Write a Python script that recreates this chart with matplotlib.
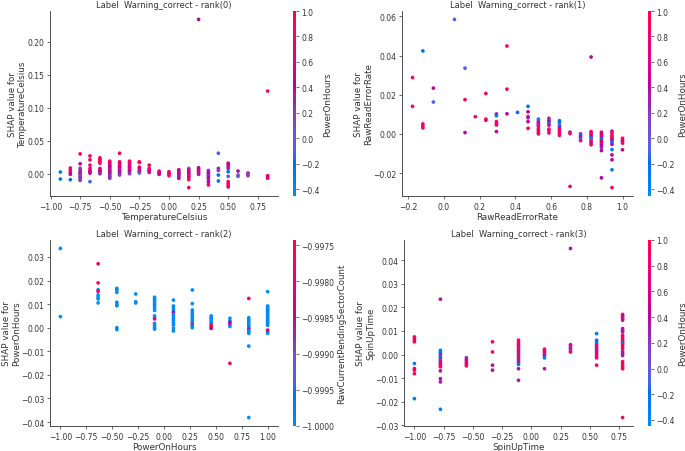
import numpy as np
import matplotlib
matplotlib.use("Agg")
import matplotlib.pyplot as plt
from matplotlib.colors import ListedColormap
from matplotlib.ticker import FuncFormatter

# ---------------- data ----------------
titles = ["Label  Warning_correct - rank(0)", "Label  Warning_correct - rank(1)",
          "Label  Warning_correct - rank(2)", "Label  Warning_correct - rank(3)"]
features = ["TemperatureCelsius", "RawReadErrorRate", "PowerOnHours", "SpinUpTime"]
color_features = ["PowerOnHours", "PowerOnHours", "RawCurrentPendingSectorCount", "PowerOnHours"]

# Panel 1: TemperatureCelsius
p1_cols = [-0.917, -0.833, -0.75, -0.667, -0.583, -0.5, -0.417, -0.333, -0.25, -0.167,
           -0.083, 0.0, 0.083, 0.167, 0.25, 0.333, 0.417, 0.5, 0.583, 0.667, 0.833]
p1_shap = [
    [0.0025, -0.008],
    [0.0085, 0.005, 0.0015, -0.001, -0.009],
    [0.030, 0.015, 0.008, 0.005, 0.002, 0.0, -0.002, -0.004, -0.006, -0.008, -0.010],
    [0.027, 0.021, 0.013, 0.008, 0.005, 0.003, 0.001, 0.0015, -0.012],
    [0.024, 0.022, 0.020, 0.018, 0.016, 0.008, 0.006, 0.004, 0.002, 0.0],
    [0.019, 0.017, 0.015, 0.013, 0.011, 0.009, 0.007, 0.005, 0.003, 0.001, -0.001, -0.003, -0.005, -0.007],
    [0.031, 0.018, 0.016, 0.014, 0.012, 0.010, 0.008, 0.006, 0.004, 0.002, 0.0, -0.002],
    [0.019, 0.017, 0.015, 0.012, 0.010, 0.008, 0.006, 0.004, 0.002, 0.0],
    [0.018, 0.017, 0.010, 0.008, 0.005, 0.003, 0.001],
    [0.013, 0.008, 0.006, 0.004, 0.002],
    [0.004, 0.002, 0.0, -0.001],
    [0.003, 0.001, -0.001, -0.003],
    [0.006, 0.004, 0.002, 0.0, -0.002, -0.004, -0.007],
    [0.008, 0.006, 0.004, 0.002, 0.0, -0.002, -0.004, -0.006, -0.009, -0.021],
    [0.2335, 0.009, 0.007, 0.005, 0.003, 0.001, -0.001],
    [0.005, 0.003, 0.001, -0.002, -0.004, -0.006, -0.009, -0.013, -0.017],
    [0.031, 0.008, 0.005, -0.002, -0.011],
    [0.016, 0.014, 0.011, 0.008, 0.003, -0.004, -0.012, -0.015, -0.018, -0.020],
    [0.004, -0.002, -0.004],
    [0.001, -0.001, -0.003],
    [0.125, -0.003, -0.005, -0.007],
]
p1_color = [
    [-0.3, -0.3],
    [0.9, 0.8, 0.6, 0.4, -0.2],
    [0.9, 0.4, 0.3, 0.2, 0.4, 0.3, 0.2, 0.1, 0.3, 0.0, 0.2],
    [0.9, 0.9, 0.9, 0.9, 0.6, 0.4, 0.3, 0.7, -0.1],
    [0.95, 0.9, 0.9, 0.85, 0.9, 0.9, 0.6, 0.5, 0.4, 0.3],
    [0.9, 0.9, 0.6, 0.7, 0.5, 0.4, 0.3, 0.8, 0.5, 0.4, 0.3, 0.2, 0.3, 0.2],
    [0.9, 0.9, 0.9, 0.6, 0.8, 0.5, 0.4, 0.7, 0.3, 0.4, 0.3, 0.2],
    [0.9, 0.9, 0.8, 0.7, 0.6, 0.5, 0.9, 0.4, 0.3, 0.2],
    [0.95, 0.9, 0.8, 0.5, 0.9, 0.4, 0.0],
    [0.9, 0.9, 0.7, 0.5, 0.6],
    [0.9, 0.7, 0.4, 0.5],
    [0.9, 0.8, 0.7, 0.9],
    [0.5, 0.4, 0.3, 0.6, 0.4, 0.3, 0.4],
    [0.0, 0.3, 0.9, 0.5, 0.4, 0.8, 0.9, 0.6, 0.9, 0.95],
    [0.4, 0.5, 0.4, 0.9, 0.4, 0.8, 0.3],
    [0.0, 0.3, 0.4, 0.3, 0.2, 0.4, 0.3, 0.4, 0.8],
    [-0.1, 0.3, 0.2, -0.2, -0.2],
    [0.9, 0.4, 0.6, 0.3, -0.2, -0.1, 0.9, 0.9, 0.95, 0.9],
    [0.4, 0.1, 0.0],
    [0.3, 0.2, 0.2],
    [0.95, 0.9, 0.4, 0.9],
]

# Panel 2: RawReadErrorRate
p2_cols = [-0.176, -0.118, -0.059, 0.059, 0.118, 0.176, 0.235, 0.294, 0.353, 0.412,
           0.471, 0.529, 0.588, 0.647, 0.706, 0.765, 0.824, 0.882, 0.941, 1.0]
p2_shap = [
    [0.0288, 0.0141],
    [0.0424, 0.0051, 0.0041, 0.0031],
    [0.0234, 0.0163],
    [0.0585],
    [0.0336, 0.0175, 0.0007],
    [0.0088],
    [0.0207, 0.0076, 0.0070],
    [0.0102, 0.0093, 0.0063, 0.0053, 0.0046, 0.0012],
    [0.0449, 0.0229, 0.0103],
    [0.0110],
    [0.0141, 0.0113, 0.0088, 0.0083, 0.0063, 0.0029],
    [0.0076, 0.0068, 0.0060, 0.0051, 0.0046, 0.0038, 0.0025, 0.0017, 0.0008, 0.0],
    [0.0080, 0.0070, 0.0064, 0.0056, 0.0045, 0.0025, 0.0017, 0.0005],
    [0.0068, 0.0060, 0.0045, 0.0039, 0.0030, 0.0020, 0.0012, 0.0004, -0.0007],
    [0.0009, 0.0002, -0.0268],
    [0.0, -0.0008, -0.0017, -0.0025, -0.0034],
    [0.0393, 0.0012, 0.0005, -0.0003, -0.0012, -0.0020, -0.0028, -0.0037, -0.0047, -0.0055],
    [0.0009, 0.0, -0.0008, -0.0017, -0.0025, -0.0034, -0.0042, -0.0051, -0.0059, -0.0068, -0.0085, -0.0224],
    [0.0014, 0.0005, -0.0007, -0.0015, -0.0024, -0.0032, -0.0041, -0.0053, -0.0080, -0.0107, -0.0132, -0.0183, -0.0274],
    [-0.0022, -0.0030, -0.0039, -0.0047, -0.0081],
]
p2_color = [
    [0.9, 0.9],
    [-0.2, 0.9, 0.8, 0.9],
    [0.4, -0.1],
    [-0.1],
    [-0.1, 0.9, 0.4],
    [0.9],
    [0.9, 0.9, 0.8],
    [0.4, -0.3, 0.9, 0.8, 0.9, 0.4],
    [0.9, 0.9, 0.4],
    [-0.2],
    [-0.2, 0.4, 0.4, 0.3, 0.4, 0.9],
    [-0.3, 0.0, 0.3, 0.4, 0.2, 0.9, 0.9, 0.8, 0.9, 0.9],
    [0.9, -0.3, 0.4, -0.2, 0.5, 0.9, 0.9, 0.9],
    [-0.3, -0.2, 0.1, -0.3, 0.4, 0.9, 0.8, 0.9, 0.9],
    [0.4, 0.9, 0.9],
    [0.4, -0.2, 0.4, -0.1, 0.9],
    [0.4, 0.9, 0.9, 0.8, 0.4, -0.2, -0.1, 0.9, 0.4, 0.9],
    [0.9, 0.4, 0.9, 0.4, -0.2, 0.9, 0.4, 0.9, 0.4, 0.3, 0.4, 0.4],
    [0.4, 0.9, 0.8, 0.9, 0.9, 0.4, -0.2, 0.4, -0.3, 0.4, 0.4, -0.3, 0.95],
    [0.9, 0.9, 0.4, 0.9, 0.4],
]

# Panel 3: PowerOnHours (colored by RawCurrentPendingSectorCount)
p3_cols = [-1.0, -0.636, -0.455, -0.273, -0.091, 0.091, 0.273, 0.455, 0.636, 0.818, 1.0]
p3_shap = [
    [0.0336, 0.0047],
    [0.0271, 0.0190, 0.0161, 0.0154, 0.0139, 0.0130, 0.0122, 0.0105],
    [0.0167, 0.0160, 0.0150, 0.0108, 0.0099, 0.0093, 0.0, -0.0008],
    [0.0143, 0.0110, 0.0105],
    [0.0129, 0.0122, 0.0114, 0.0106, 0.0099, 0.0091, 0.0082, 0.0073, 0.0050, 0.0042, 0.0037, 0.0018, 0.0009, 0.0, -0.0006],
    [0.0117, 0.0092, 0.0082, 0.0073, 0.0065, 0.0056, 0.0048, 0.0039, 0.0030, 0.0020, 0.0011, -0.0003, -0.0014],
    [0.0160, 0.0102, 0.0075, 0.0066, 0.0058, 0.0049, 0.0040, 0.0031, 0.0022, 0.0014, 0.0007, 0.0],
    [0.0050, 0.0042, 0.0034, 0.0025, 0.0018, 0.0011, 0.0003, -0.0003],
    [0.0040, 0.0028, 0.0023, 0.0014, 0.0005, -0.0151],
    [0.0124, 0.0042, 0.0034, 0.0026, 0.0018, 0.0010, 0.0002, -0.0006, -0.0012, -0.0018, -0.0024, -0.0078, -0.0381],
    [0.0153, 0.0092, 0.0087, 0.0082, 0.0077, 0.0071, 0.0065, 0.0058, 0.0052, 0.0046, 0.0040, 0.0034, 0.0028, 0.0022, 0.0016, 0.0010, -0.0010, -0.0017, -0.0024],
]
p3_color = [
    [-1.0, -1.0],
    [-0.9975, -0.9975, -1.0, -0.9975, -1.0, -1.0, -1.0, -1.0],
    [-1.0, -1.0, -1.0, -1.0, -1.0, -1.0, -1.0, -1.0],
    [-1.0, -1.0, -1.0],
    [-1.0, -1.0, -1.0, -1.0, -1.0, -1.0, -1.0, -1.0, -1.0, -1.0, -0.9975, -1.0, -1.0, -1.0, -1.0],
    [-1.0, -1.0, -1.0, -1.0, -0.9985, -1.0, -1.0, -1.0, -1.0, -1.0, -1.0, -1.0, -1.0],
    [-1.0, -1.0, -1.0, -1.0, -1.0, -1.0, -1.0, -1.0, -1.0, -0.9975, -1.0, -1.0],
    [-1.0, -1.0, -1.0, -1.0, -1.0, -0.9975, -0.9975, -0.9985],
    [-1.0, -1.0, -0.9985, -0.9985, -1.0, -0.9975],
    [-0.9975, -1.0, -1.0, -1.0, -1.0, -1.0, -1.0, -0.9985, -1.0, -1.0, -1.0, -1.0, -1.0],
    [-1.0, -1.0, -1.0, -1.0, -1.0, -1.0, -1.0, -1.0, -1.0, -1.0, -1.0, -1.0, -1.0, -1.0, -1.0, -1.0, -0.9975, -0.9985, -1.0],
]

# Panel 4: SpinUpTime
p4_cols = [-1.0, -0.778, -0.556, -0.333, -0.111, 0.111, 0.333, 0.556, 0.778]
p4_shap = [
    [0.0075, 0.0068, 0.0061, 0.0054, -0.0038, -0.0059, -0.0066, -0.0081, -0.0187],
    [0.0235, 0.0018, 0.0011, 0.0004, -0.0003, -0.0010, -0.0017, -0.0024, -0.0031, -0.0038, -0.0045, -0.0052, -0.0069, -0.0102, -0.0116, -0.0232],
    [-0.0013, -0.0020, -0.0027, -0.0034, -0.0041, -0.0048],
    [0.0054, 0.0011, -0.0045, -0.0066],
    [0.0061, 0.0052, 0.0044, 0.0036, 0.0028, 0.0020, 0.0012, 0.0004, -0.0004, -0.0012, -0.0020, -0.0028, -0.0036, -0.0042, -0.0060, -0.0109],
    [0.0023, 0.0016, 0.0009, 0.0002, -0.0005, -0.0014, -0.0060],
    [0.0450, 0.0042, 0.0036, 0.0030, 0.0024, 0.0017, 0.0011],
    [0.0089, 0.0061, 0.0055, 0.0048, 0.0040, 0.0033, 0.0026, 0.0018, 0.0010, 0.0002, -0.0006, -0.0014, -0.0045],
    [0.0170, 0.0164, 0.0158, 0.0152, 0.0146, 0.0110, 0.0103, 0.0096, 0.0082, 0.0074, 0.0066, 0.0058, 0.0050,
     0.0047, 0.0040, 0.0032, 0.0025, 0.0012, 0.0004, -0.0004, -0.0030, -0.0038, -0.0046, -0.0054, -0.0060, -0.0267],
]
p4_color = [
    [0.9, 0.9, 0.9, 0.9, -0.3, 0.9, 0.9, 0.9, -0.3],
    [0.35, -0.3, -0.3, -0.2, 0.35, -0.3, 0.35, -0.3, 0.9, 0.35, 0.9, 0.9, 0.35, 0.35, 0.35, -0.3],
    [0.1, 0.35, 0.9, 0.35, 0.9, 0.9],
    [0.9, 0.9, 0.35, 0.35],
    [0.9, 0.9, 0.9, 0.35, 0.9, 0.9, 0.35, 0.9, 0.35, 0.9, 0.35, 0.35, 0.35, -0.3, 0.35, 0.35],
    [0.9, 0.9, 0.35, 0.9, 0.35, -0.3, 0.35],
    [0.35, 0.9, 0.9, 0.1, 0.35, 0.1, 0.9],
    [-0.3, -0.3, -0.2, -0.3, 0.9, 0.35, 0.9, 0.35, 0.9, 0.35, 0.9, 0.9, 0.9],
    [0.35, 0.9, 0.35, 0.9, 0.35, 0.35, 0.35, 0.35, 0.9, 0.9, 0.9, 0.9, 0.35,
     -0.3, 0.9, 0.9, 0.9, 0.35, 0.35, 0.35, 0.9, 0.9, 0.9, 0.9, 0.9, 0.9],
]

color_limits = [(-0.452, 1.0), (-0.452, 1.0), (-1.0, -0.99743), (-0.447, 1.0)]


# ---------------- SHAP red_blue colormap (Lch interpolation) ----------------
def lch_to_rgb(L, C, h):
    a = C * np.cos(h)
    b = C * np.sin(h)
    fy = (L + 16.0) / 116.0
    fx = fy + a / 500.0
    fz = fy - b / 200.0
    d = 6.0 / 29.0

    def finv(t):
        return np.where(t > d, t ** 3, 3 * d * d * (t - 4.0 / 29.0))
    X = 0.95047 * finv(fx)
    Y = 1.0 * finv(fy)
    Z = 1.08883 * finv(fz)
    r = 3.2406 * X - 1.5372 * Y - 0.4986 * Z
    g = -0.9689 * X + 1.8758 * Y + 0.0415 * Z
    bb = 0.0557 * X - 0.2040 * Y + 1.0570 * Z
    rgb = np.stack([r, g, bb], axis=-1)
    rgb = np.where(rgb <= 0.0031308, 12.92 * rgb, 1.055 * np.abs(rgb) ** (1 / 2.4) - 0.055)
    return np.clip(rgb, 0, 1)


blue_lch = [54., 70., 4.6588]
l_mid = 40.
red_lch = [54., 90., 0.35470565 + 2 * np.pi]
nsteps = 100
l_vals = np.array(list(np.linspace(blue_lch[0], l_mid, nsteps // 2)) +
                  list(np.linspace(l_mid, red_lch[0], nsteps // 2)))
c_vals = np.linspace(blue_lch[1], red_lch[1], nsteps)
h_vals = np.linspace(blue_lch[2], red_lch[2], nsteps)
red_blue = ListedColormap(lch_to_rgb(l_vals, c_vals, h_vals))

# ---------------- figure ----------------
axis_color = "#333333"
fig = plt.figure(figsize=(6.85, 4.52), dpi=100)

W, H = 685.0, 452.0
# (left, top, right, bottom) in pixels
ax_boxes = [(50, 12, 278, 197), (402, 12, 633, 197), (50, 241, 278, 427), (404, 241, 633, 427)]
cb_boxes = [(293, 12, 296, 197), (648, 12, 651, 197), (293, 241, 296, 427), (648, 241, 651, 427)]

panels = [(p1_cols, p1_shap, p1_color), (p2_cols, p2_shap, p2_color),
          (p3_cols, p3_shap, p3_color), (p4_cols, p4_shap, p4_color)]
xfmts = [".2f", ".1f", ".2f", ".2f"]


def box(b):
    l, t, r, bt = b
    return [l / W, 1 - bt / H, (r - l) / W, (bt - t) / H]


def minus_fmt(fmt):
    return FuncFormatter(lambda v, p: format(v, fmt).replace("-", "\u2212"))


for i, (cols, shap, col) in enumerate(panels):
    xs, ys, cs = [], [], []
    for xv, yl, cl in zip(cols, shap, col):
        xs.extend([xv] * len(yl))
        ys.extend(yl)
        cs.extend(cl)
    ax = fig.add_axes(box(ax_boxes[i]))
    vmin, vmax = color_limits[i]
    sc = ax.scatter(xs, ys, c=cs, cmap=red_blue, vmin=vmin, vmax=vmax, s=7, linewidths=0)
    ax.spines["top"].set_visible(False)
    ax.spines["right"].set_visible(False)
    for s in ["left", "bottom"]:
        ax.spines[s].set_color(axis_color)
        ax.spines[s].set_linewidth(0.6)
    ax.tick_params(labelsize=5.5, length=2.5, width=0.5, color=axis_color,
                   labelcolor=axis_color, pad=1.5)
    ax.yaxis.set_major_formatter(minus_fmt(".2f"))
    ax.xaxis.set_major_formatter(minus_fmt(xfmts[i]))
    ax.set_xlabel(features[i], fontsize=6.3, color=axis_color, labelpad=1)
    ax.set_ylabel("SHAP value for\n" + features[i], fontsize=6.3, color=axis_color, labelpad=0)
    ax.set_title(titles[i], fontsize=6, color=axis_color, pad=3)

    cax = fig.add_axes(box(cb_boxes[i]))
    cb = fig.colorbar(sc, cax=cax)
    cb.outline.set_visible(False)
    cb.ax.tick_params(labelsize=5.5, length=2.5, width=0.5, color=axis_color,
                      labelcolor=axis_color, pad=1.5)
    if i == 2:
        cb.set_ticks([-1.0, -0.9995, -0.999, -0.9985, -0.998, -0.9975])
        cb.ax.yaxis.set_major_formatter(minus_fmt(".4f"))
    else:
        cb.set_ticks([-0.4, -0.2, 0.0, 0.2, 0.4, 0.6, 0.8, 1.0])
        cb.ax.yaxis.set_major_formatter(minus_fmt(".1f"))
    cb.set_label(color_features[i], size=6.3, color=axis_color, labelpad=2)

fig.savefig("out.png", dpi=100, facecolor="white")
